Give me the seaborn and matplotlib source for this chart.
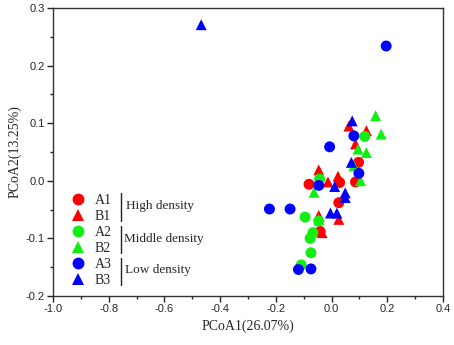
import matplotlib
matplotlib.use("Agg")
import matplotlib.pyplot as plt
from matplotlib.lines import Line2D
from matplotlib.ticker import MultipleLocator
import seaborn as sns
import pandas as pd

# ---- data ----
a1_x = [0.097, 0.086, -0.081, 0.029, 0.026, -0.041]
a1_y = [0.032, -0.002, -0.006, -0.003, -0.038, -0.088]
b1_x = [0.062, 0.125, 0.086, -0.046, -0.013, 0.023, 0.026, -0.046, -0.034]
b1_y = [0.095, 0.087, 0.064, 0.019, -0.002, 0.008, -0.067, -0.060, -0.090]
a2_x = [0.119, -0.043, -0.095, -0.046, -0.067, -0.077, -0.074, -0.109]
a2_y = [0.077, 0.003, -0.063, -0.070, -0.090, -0.100, -0.125, -0.146]
b2_x = [0.158, 0.178, 0.095, 0.125, 0.080, 0.104, -0.063, -0.046]
b2_y = [0.113, 0.081, 0.055, 0.049, 0.026, 0.000, -0.020, -0.068]
a3_x = [0.196, 0.080, -0.007, 0.098, -0.046, -0.223, -0.149, -0.119, -0.074]
a3_y = [0.234, 0.078, 0.059, 0.013, -0.008, -0.049, -0.049, -0.154, -0.153]
b3_x = [-0.468, 0.074, 0.071, 0.011, 0.049, 0.049, -0.004, 0.019]
b3_y = [0.271, 0.104, 0.032, -0.010, -0.021, -0.029, -0.056, -0.056]

samples = ["A1", "B1", "A2", "B2", "A3", "B3"]
groups = ["High density", "Middle density", "Low density"]
x_label = "PCoA1(26.07%)"
y_label = "PCoA2(13.25%)"

xs = [a1_x, b1_x, a2_x, b2_x, a3_x, b3_x]
ys = [a1_y, b1_y, a2_y, b2_y, a3_y, b3_y]
rows = []
for s, xx, yy in zip(samples, xs, ys):
    for xv, yv in zip(xx, yy):
        rows.append({"PCoA1": xv, "PCoA2": yv, "sample": s})
df = pd.DataFrame(rows)

colors = {"A1": "#FF0000", "B1": "#FF0000", "A2": "#11EE11", "B2": "#11EE11",
          "A3": "#0000FF", "B3": "#0000FF"}
markers = {"A1": "o", "B1": "^", "A2": "o", "B2": "^", "A3": "o", "B3": "^"}

sns.set_style("ticks")
plt.rcParams["font.family"] = ["Liberation Sans", "DejaVu Sans"]

W, H = 454, 345
fig = plt.figure(figsize=(W / 100, H / 100), dpi=100)
ax = fig.add_axes([53 / W, 1 - 296 / H, 390 / W, 288 / H])

sns.scatterplot(data=df, x="PCoA1", y="PCoA2", hue="sample", style="sample",
                palette=colors, markers=markers, s=62, linewidth=0,
                legend=False, ax=ax, zorder=3)

ax.set_xlim(-1.0, 0.4)
ax.set_ylim(-0.2, 0.3)
ax.xaxis.set_major_locator(MultipleLocator(0.2))
ax.xaxis.set_minor_locator(MultipleLocator(0.1))
ax.yaxis.set_major_locator(MultipleLocator(0.1))
ax.yaxis.set_minor_locator(MultipleLocator(0.05))
ax.set_xticklabels([f"{v:.1f}" for v in ax.get_xticks()])
ax.set_yticklabels([f"{v:.1f}" for v in ax.get_yticks()])
ax.tick_params(which="major", direction="out", length=4, width=1.0,
               labelsize=8, pad=2, color="#222222")
ax.tick_params(which="minor", direction="out", length=2.5, width=1.0,
               color="#222222")
for sp in ax.spines.values():
    sp.set_visible(True)
    sp.set_linewidth(1.0)
    sp.set_color("#333333")

ax.set_xlabel(x_label, fontfamily="Liberation Serif", fontsize=10, labelpad=4)
ax.set_ylabel(y_label, fontfamily="Liberation Serif", fontsize=10, labelpad=3)

# ---- legend ----
handles = [Line2D([], [], linestyle="none", marker=markers[s], color=colors[s],
                  markersize=8.5, markeredgewidth=0) for s in samples]
leg = ax.legend(handles, samples, loc="upper left",
                bbox_to_anchor=(70 / W, 1 - 194 / H), bbox_transform=fig.transFigure,
                frameon=False, prop={"family": "Liberation Serif", "size": 10},
                handlelength=1.2, handletextpad=0.6, labelspacing=0.22,
                borderpad=0.0, borderaxespad=0.0)

def fx(px):
    return px / W

def fy(py):
    return 1 - py / H

brackets = [(193, 221, 206, 126), (226, 253, 239, 124), (258, 285, 270, 125)]
for (y0, y1, yt, xt), g in zip(brackets, groups):
    fig.add_artist(Line2D([fx(121), fx(121)], [fy(y0), fy(y1)],
                          transform=fig.transFigure, color="#222222", lw=1.0))
    fig.text(fx(xt), fy(yt), g, fontfamily="Liberation Serif", fontsize=9.5,
             va="center", ha="left")

fig.savefig("out.png", dpi=100)
